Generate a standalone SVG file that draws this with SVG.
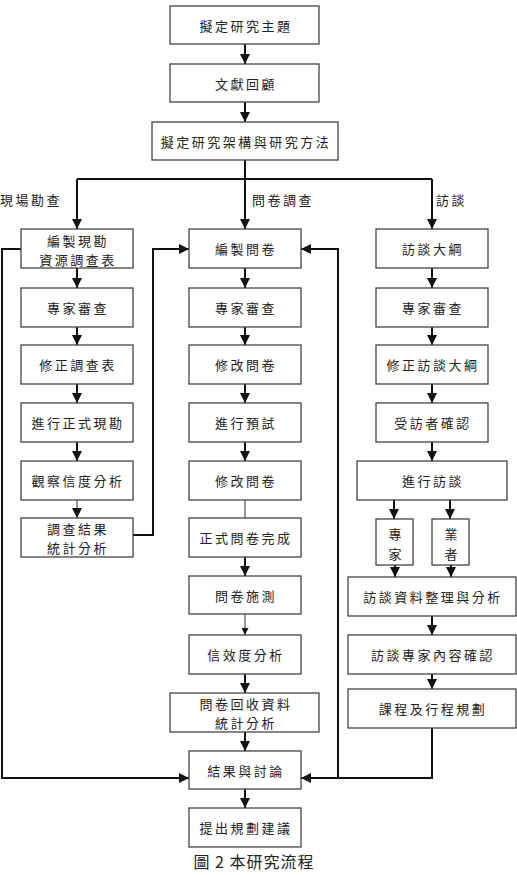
<svg xmlns="http://www.w3.org/2000/svg" width="517" height="875" viewBox="0 0 517 875">
<defs>
<marker id="ah" viewBox="0 0 10 10" refX="10" refY="5" markerWidth="10" markerHeight="10" markerUnits="userSpaceOnUse" orient="auto">
<path d="M0,0 L10,5 L0,10 z" fill="#111"/>
</marker>
<marker id="ahs" viewBox="0 0 10 10" refX="10" refY="5" markerWidth="7" markerHeight="7" markerUnits="userSpaceOnUse" orient="auto">
<path d="M0,0 L10,5 L0,10 z" fill="#111"/>
</marker>
</defs>
<style>
rect{fill:#fff;stroke:#444;stroke-width:1.3}
text{font-family:"Noto Sans CJK TC","Noto Sans CJK SC",sans-serif;font-size:13px;fill:#222;text-anchor:middle;dominant-baseline:central;letter-spacing:2.5px}
.lbl{text-anchor:start}
.c{fill:none;stroke:#111;stroke-width:2}
.t{fill:none;stroke:#333;stroke-width:1}
.a{marker-end:url(#ah)}
.as{marker-end:url(#ahs)}
.cap{font-size:16px;letter-spacing:1px;dominant-baseline:auto}
</style>
<rect x="0" y="0" width="517" height="875" style="fill:#fff;stroke:none"/>
<g id="connectors">
<path class="c a" d="M245,44 V64"/>
<path class="c a" d="M245,102 V122"/>
<path class="c" d="M245,160 V179 M77,179 H432"/>
<path class="c a" d="M77,179 V229"/>
<path class="c a" d="M245,179 V229"/>
<path class="c a" d="M432,179 V229"/>
<path class="c a" d="M77,268 V288"/>
<path class="c a" d="M77,327 V345"/>
<path class="c a" d="M77,384 V403"/>
<path class="c a" d="M77,442 V461"/>
<path class="t a" d="M77,500 V518"/>
<path class="c a" d="M245,268 V288"/>
<path class="c a" d="M245,327 V345"/>
<path class="c a" d="M245,384 V403"/>
<path class="c a" d="M245,442 V461"/>
<path class="t" d="M245,500 V518"/>
<path class="c a" d="M245,557 V576"/>
<path class="t as" d="M245,614 V635"/>
<path class="c a" d="M245,674 V693"/>
<path class="c a" d="M245,732 V751"/>
<path class="c a" d="M245,789 V808"/>
<path class="c a" d="M432,268 V288"/>
<path class="c a" d="M432,327 V345"/>
<path class="c a" d="M432,384 V403"/>
<path class="c a" d="M432,442 V461"/>
<path class="c a" d="M394,500 V519"/>
<path class="c a" d="M450,500 V519"/>
<path class="c a" d="M395,560 V577"/>
<path class="c a" d="M451,560 V577"/>
<path class="c a" d="M432,616 V635"/>
<path class="c a" d="M432,674 V689"/>
<path class="c a" d="M432,728 V778 H301"/>
<path class="c a" d="M21,249 H2 V778 H189"/>
<path class="c a" d="M133,535 H153 V249 H189"/>
<path class="c a" d="M338,778 V249 H301"/>
</g>
<g id="labels">
<text class="lbl" x="0" y="199">現場勘查</text>
<text class="lbl" x="252" y="199">問卷調查</text>
<text class="lbl" x="436" y="199">訪談</text>
</g>
<g id="n1"><rect x="170" y="6" width="149" height="38"/><text x="246" y="25">擬定研究主題</text></g>
<g id="n2"><rect x="170" y="64" width="149" height="38"/><text x="246" y="83">文獻回顧</text></g>
<g id="n3"><rect x="152" y="122" width="186" height="38"/><text x="246" y="141">擬定研究架構與研究方法</text></g>
<g id="l1"><rect x="21" y="229" width="112" height="39"/><text x="78" y="240">編製現勘</text><text x="78" y="259">資源調查表</text></g>
<g id="l2"><rect x="21" y="288" width="112" height="39"/><text x="78" y="307.500">專家審查</text></g>
<g id="l3"><rect x="21" y="345" width="112" height="39"/><text x="78" y="364.500">修正調查表</text></g>
<g id="l4"><rect x="21" y="403" width="112" height="39"/><text x="78" y="422.500">進行正式現勘</text></g>
<g id="l5"><rect x="21" y="461" width="112" height="39"/><text x="78" y="480.500">觀察信度分析</text></g>
<g id="l6"><rect x="21" y="518" width="112" height="39"/><text x="78" y="528">調查結果</text><text x="78" y="547">統計分析</text></g>
<g id="m1"><rect x="189" y="229" width="112" height="39"/><text x="246" y="248.500">編製問卷</text></g>
<g id="m2"><rect x="189" y="288" width="112" height="39"/><text x="246" y="307.500">專家審查</text></g>
<g id="m3"><rect x="189" y="345" width="112" height="39"/><text x="246" y="364.500">修改問卷</text></g>
<g id="m4"><rect x="189" y="403" width="112" height="39"/><text x="246" y="422.500">進行預試</text></g>
<g id="m5"><rect x="189" y="461" width="112" height="39"/><text x="246" y="480.500">修改問卷</text></g>
<g id="m6"><rect x="189" y="518" width="112" height="39"/><text x="246" y="537.500">正式問卷完成</text></g>
<g id="m7"><rect x="189" y="576" width="112" height="38"/><text x="246" y="595">問卷施測</text></g>
<g id="m8"><rect x="189" y="635" width="112" height="39"/><text x="246" y="654.500">信效度分析</text></g>
<g id="m9"><rect x="170" y="693" width="149" height="39"/><text x="246" y="703">問卷回收資料</text><text x="246" y="722">統計分析</text></g>
<g id="m10"><rect x="189" y="751" width="112" height="38"/><text x="246" y="770">結果與討論</text></g>
<g id="m11"><rect x="189" y="808" width="112" height="39"/><text x="246" y="827.500">提出規劃建議</text></g>
<g id="r1"><rect x="376" y="229" width="112" height="39"/><text x="433" y="248.500">訪談大綱</text></g>
<g id="r2"><rect x="376" y="288" width="112" height="39"/><text x="433" y="307.500">專家審查</text></g>
<g id="r3"><rect x="376" y="345" width="112" height="39"/><text x="433" y="364.500">修正訪談大綱</text></g>
<g id="r4"><rect x="376" y="403" width="112" height="39"/><text x="433" y="422.500">受訪者確認</text></g>
<g id="r5"><rect x="357" y="461" width="150" height="39"/><text x="433" y="480.500">進行訪談</text></g>
<g id="r6a"><rect x="376" y="519" width="37" height="46"/><text x="395" y="533" style="letter-spacing:0">專</text><text x="395" y="553" style="letter-spacing:0">家</text></g>
<g id="r6b"><rect x="432" y="519" width="37" height="46"/><text x="451" y="533" style="letter-spacing:0">業</text><text x="451" y="553" style="letter-spacing:0">者</text></g>
<g id="r7"><rect x="348" y="577" width="168" height="39"/><text x="433" y="596.500">訪談資料整理與分析</text></g>
<g id="r8"><rect x="348" y="635" width="168" height="39"/><text x="433" y="654.500">訪談專家內容確認</text></g>
<g id="r9"><rect x="348" y="689" width="168" height="39"/><text x="433" y="708.500">課程及行程規劃</text></g>
<text class="cap" x="254" y="868">圖 2 本研究流程</text>
</svg>
